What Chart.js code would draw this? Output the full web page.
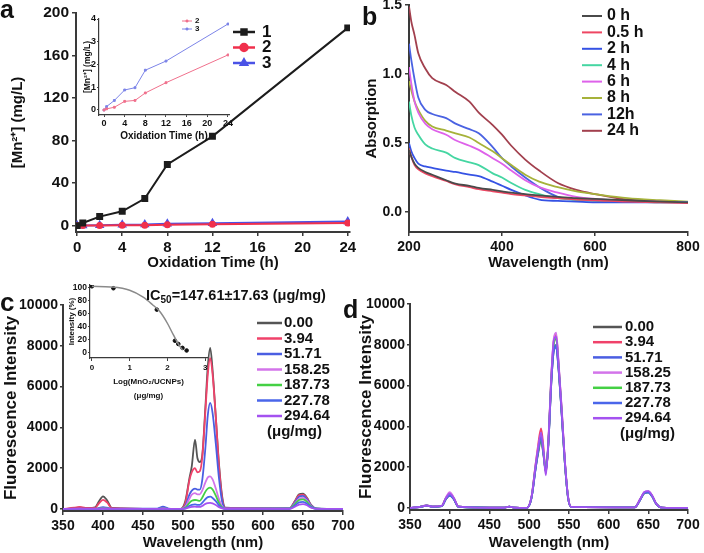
<!DOCTYPE html>
<html>
<head>
<meta charset="utf-8">
<script src="https://cdn.jsdelivr.net/npm/chart.js"></script>
<style>
  body { margin: 0; background: #fff; }
  #wrap { position: relative; width: 704px; height: 553px; overflow: hidden; font-family: 'Liberation Sans', Arial, sans-serif; }
  #wrap canvas { position: absolute; left: 0; top: 0; }
  .lbl { position: absolute; font-weight: bold; color: #111; line-height: 1; white-space: nowrap; }
  .lbl sub { font-size: 10px; vertical-align: -3px; line-height: 0; }
</style>
</head>
<body>
<div id="wrap">
  <canvas id="cA" width="704" height="553"></canvas>
  <canvas id="cB" width="704" height="553"></canvas>
  <canvas id="cC" width="704" height="553"></canvas>
  <canvas id="cD" width="704" height="553"></canvas>
  <canvas id="cAin" width="704" height="553"></canvas>
  <canvas id="cCin" width="704" height="553"></canvas>
  <div class="lbl" style="left:0px;top:-3px;font-size:25px">a</div>
  <div class="lbl" style="left:362px;top:4px;font-size:25px">b</div>
  <div class="lbl" style="left:0px;top:289px;font-size:26px">c</div>
  <div class="lbl" style="left:343px;top:297px;font-size:25px">d</div>
  <div class="lbl" style="left:146px;top:288px;font-size:14.5px">IC<sub>50</sub>=147.61±17.63 (μg/mg)</div>
</div>

<script>
// ---- panel a: Mn2+ release
var aTime = [0, 0.5, 2, 4, 6, 8, 12, 24];
var aMn1 = [0, 2.5, 8.5, 13.5, 25.5, 57.5, 84, 186];
var aMn2 = [0, 0.05, 0.12, 0.38, 0.42, 0.75, 1.2, 2.42];
var aMn3 = [0, 0.15, 0.42, 0.88, 0.98, 1.75, 2.15, 3.78];
var aTicksX = [0, 4, 8, 12, 16, 20, 24];
var aTicksY = [0, 40, 80, 120, 160, 200];
var aInTicksY = [0, 1, 2, 3, 4];

// ---- panel b: absorption spectra
var bX = [200, 205, 212, 220, 235, 250, 280, 300, 330, 350, 380, 400, 420, 450, 480, 520, 560, 600, 670, 740, 800];
var b0h  = [0.45, 0.40, 0.35, 0.32, 0.29, 0.27, 0.23, 0.205, 0.19, 0.175, 0.16, 0.15, 0.14, 0.13, 0.12, 0.11, 0.10, 0.095, 0.085, 0.075, 0.07];
var b05h = [0.46, 0.40, 0.34, 0.31, 0.28, 0.26, 0.225, 0.20, 0.18, 0.165, 0.15, 0.14, 0.13, 0.12, 0.11, 0.10, 0.09, 0.085, 0.075, 0.07, 0.065];
var b2h  = [0.50, 0.44, 0.39, 0.35, 0.33, 0.32, 0.30, 0.29, 0.27, 0.26, 0.22, 0.19, 0.16, 0.12, 0.09, 0.08, 0.075, 0.07, 0.07, 0.07, 0.07];
var b4h  = [0.80, 0.70, 0.61, 0.56, 0.49, 0.46, 0.43, 0.39, 0.36, 0.34, 0.28, 0.25, 0.21, 0.16, 0.13, 0.10, 0.087, 0.08, 0.075, 0.07, 0.07];
var b6h  = [1.05, 0.93, 0.80, 0.72, 0.64, 0.60, 0.56, 0.52, 0.48, 0.45, 0.39, 0.35, 0.30, 0.23, 0.18, 0.14, 0.11, 0.095, 0.08, 0.075, 0.07];
var b8h  = [0.95, 0.88, 0.80, 0.74, 0.66, 0.62, 0.59, 0.57, 0.54, 0.50, 0.44, 0.39, 0.34, 0.27, 0.22, 0.18, 0.15, 0.13, 0.10, 0.085, 0.075];
var b12h = [1.22, 1.10, 0.96, 0.83, 0.74, 0.71, 0.68, 0.64, 0.60, 0.57, 0.47, 0.39, 0.33, 0.25, 0.18, 0.11, 0.09, 0.085, 0.08, 0.075, 0.07];
var b24h = [1.49, 1.38, 1.28, 1.15, 1.04, 0.97, 0.92, 0.87, 0.80, 0.72, 0.63, 0.56, 0.48, 0.38, 0.30, 0.21, 0.16, 0.13, 0.09, 0.08, 0.07];
var bLabels = ['0 h', '0.5 h', '2 h', '4 h', '6 h', '8 h', '12h', '24 h'];
var bColors = ['#4a4a4a', '#ee4662', '#3552e4', '#45d6a2', '#de62ea', '#a6b23a', '#4a62e2', '#a2404e'];
var bTicksX = [200, 400, 600, 800];
var bTicksY = [0, 0.5, 1.0, 1.5];

// ---- panels c and d: emission spectra
var cX = [350, 364, 371, 378, 390, 395, 400, 405, 411, 468, 475, 482, 497, 503, 508, 511, 515, 518, 521, 524, 528, 531, 534, 537, 541, 545, 549, 553, 633, 640, 645, 650, 655, 660, 667, 700];
var c000   = [0, 30, 80, 30, 80, 380, 620, 430, 50, 0, 30, 0, 0, 400, 1500, 2100, 3400, 2500, 2300, 2600, 5000, 7000, 7900, 6800, 4500, 2200, 600, 60, 30, 400, 720, 750, 550, 200, 20, 0];
var c394   = [0, 60, 100, 50, 50, 280, 450, 320, 40, 0, 30, 0, 0, 300, 1400, 1800, 2000, 1800, 1850, 2500, 4800, 6600, 7400, 6600, 4500, 2100, 500, 40, 30, 380, 680, 700, 520, 190, 20, 0];
var c5171  = [0, 10, 20, 10, 10, 50, 90, 60, 10, 20, 110, 20, 0, 150, 700, 900, 1000, 950, 950, 1400, 3000, 4600, 5200, 4700, 3200, 1500, 350, 30, 30, 330, 600, 640, 470, 170, 20, 0];
var c15825 = [0, 5, 10, 5, 5, 20, 40, 25, 5, 5, 30, 5, 0, 100, 500, 700, 780, 720, 720, 900, 1300, 1550, 1600, 1450, 1000, 480, 120, 10, 20, 270, 500, 540, 400, 140, 15, 0];
var c18773 = [0, 5, 5, 5, 5, 15, 25, 15, 5, 0, 20, 0, 0, 60, 300, 400, 440, 420, 400, 550, 850, 1000, 1050, 950, 650, 300, 80, 5, 15, 240, 440, 470, 350, 120, 10, 0];
var c22778 = [0, 0, 5, 0, 0, 10, 15, 10, 0, 0, 15, 0, 0, 30, 150, 200, 220, 200, 200, 300, 480, 580, 600, 540, 380, 180, 50, 5, 10, 170, 320, 350, 260, 90, 10, 0];
var c29464 = [0, 0, 0, 0, 0, 5, 10, 5, 0, 0, 10, 0, 0, 20, 80, 100, 110, 100, 100, 150, 250, 290, 300, 270, 190, 90, 25, 0, 5, 110, 210, 240, 180, 60, 5, 0];

var d000   = [0, 60, 110, 60, 90, 420, 600, 440, 60, 10, 60, 10, 0, 500, 1900, 2600, 3300, 2600, 1800, 3000, 6200, 7700, 7900, 6800, 4600, 2200, 500, 50, 30, 420, 720, 760, 560, 200, 20, 0];
var d394   = [0, 70, 130, 70, 100, 480, 720, 500, 70, 10, 70, 10, 0, 550, 2100, 3000, 3900, 3000, 1700, 3100, 6500, 8200, 8500, 7100, 4800, 2300, 550, 50, 30, 440, 760, 800, 590, 210, 20, 0];
var d5171  = [0, 60, 120, 60, 90, 430, 620, 450, 60, 10, 60, 10, 0, 500, 1900, 2700, 3500, 2700, 1900, 3000, 6300, 7800, 8000, 6900, 4600, 2200, 500, 50, 30, 420, 730, 770, 560, 200, 20, 0];
var d15825 = [0, 70, 130, 70, 100, 500, 780, 520, 70, 10, 70, 10, 0, 560, 2100, 2900, 3600, 2800, 1800, 3200, 6600, 8300, 8600, 7200, 4900, 2300, 550, 50, 30, 450, 770, 820, 600, 210, 20, 0];
var d18773 = [0, 60, 120, 60, 90, 450, 650, 460, 60, 10, 60, 10, 0, 520, 2000, 2700, 3400, 2700, 1800, 3100, 6400, 8000, 8300, 7000, 4700, 2200, 520, 50, 30, 430, 740, 780, 570, 200, 20, 0];
var d22778 = [0, 60, 110, 60, 90, 430, 620, 440, 60, 10, 60, 10, 0, 500, 1900, 2700, 3500, 2650, 1750, 3000, 6200, 7700, 7900, 6800, 4600, 2200, 500, 50, 30, 420, 730, 770, 560, 200, 20, 0];
var d29464 = [0, 70, 120, 70, 100, 470, 700, 490, 70, 10, 70, 10, 0, 540, 2050, 2850, 3700, 2800, 1600, 3100, 6500, 8200, 8400, 7100, 4800, 2300, 540, 50, 30, 450, 780, 830, 600, 210, 20, 0];

var cdLabels = ['0.00', '3.94', '51.71', '158.25', '187.73', '227.78', '294.64'];
var cdColors = ['#555555', '#f0426a', '#4a5ee2', '#d374ea', '#44d044', '#4a66ea', '#a452f0'];
var cdTicksX = [350, 400, 450, 500, 550, 600, 650, 700];
var cdTicksY = [0, 2000, 4000, 6000, 8000, 10000];

// ---- inset of c: dose response
var icLogX = [0, 0.57, 1.72, 2.2, 2.29, 2.4, 2.51];
var icPct = [102, 99, 66, 18, 13, 7, 3];
var icFitX = [0, 0.5, 1.0, 1.37, 1.6, 1.8, 2.0, 2.16, 2.3, 2.4];
var icFitY = [102, 101, 96, 85, 74, 63, 45, 27, 12, 4];
var icTicksX = [0, 1, 2, 3];
var icTicksY = [0, 20, 40, 60, 80, 100];

Chart.defaults.font.family = "'Liberation Sans', Arial, sans-serif";
Chart.defaults.color = '#111';

function pts(xs, ys) {
  return xs.map(function(x, i) { return {x: x, y: ys[i]}; });
}

// scale with fixed size and explicit ticks
function lin(o) {
  return {
    type: 'linear', min: o.min, max: o.max,
    afterBuildTicks: function(s) { s.ticks = o.ticks.map(function(v) { return {value: v}; }); },
    afterFit: function(s) {
      if (o.w != null) s.width = o.w;
      if (o.h != null) s.height = o.h;
      s.paddingLeft = s.paddingRight = s.paddingTop = s.paddingBottom = 0;
    },
    border: {display: true, color: '#3a3a3a', width: o.bw || 2},
    grid: {display: true, drawOnChartArea: false, drawTicks: true, tickLength: o.tl || 4, color: '#3a3a3a', lineWidth: o.bw ? o.bw * 0.8 : 1.5},
    ticks: {autoSkip: false, maxRotation: 0, padding: o.tp != null ? o.tp : 3, color: '#111',
            font: {size: o.fs || 14, weight: 'bold'},
            callback: o.fmt || function(v) { return String(v); }},
    title: {display: !!o.title, text: o.title, padding: 0, color: '#111',
            font: {size: o.tfs || 15, weight: 'bold', lineHeight: o.tlh || 1.2}}
  };
}

// legend drawn at a fixed spot from the datasets
var legendBox = {
  id: 'legendBox',
  afterDraw: function(chart, args, o) {
    if (!o || o.x == null) return;
    var ctx = chart.ctx;
    ctx.save();
    ctx.font = o.font;
    ctx.textBaseline = 'middle';
    var n = 0;
    chart.data.datasets.forEach(function(ds) {
      if (ds.noLegend) return;
      var y = o.y + n * o.dy;
      n++;
      ctx.strokeStyle = ds.borderColor;
      ctx.lineWidth = o.lw;
      ctx.beginPath(); ctx.moveTo(o.x, y); ctx.lineTo(o.x + o.len, y); ctx.stroke();
      if (o.r) {
        ctx.fillStyle = ds.borderColor;
        Chart.helpers.drawPoint(ctx, {pointStyle: ds.pointStyle, radius: o.r, rotation: 0, borderWidth: 1}, o.x + o.len / 2, y);
      }
      ctx.fillStyle = '#111';
      ctx.fillText(ds.label, o.x + o.len + o.gap, y);
    });
    (o.extra || []).forEach(function(e) { ctx.fillText(e.text, e.x, e.y); });
    ctx.restore();
  }
};

function make(id, datasets, scales, pad, leg) {
  return new Chart(document.getElementById(id), {
    type: 'line',
    data: {datasets: datasets},
    options: {
      responsive: false, animation: false, devicePixelRatio: 1, events: [],
      layout: {padding: pad},
      scales: scales,
      plugins: {legend: {display: false}, tooltip: {enabled: false}, legendBox: leg || {}}
    },
    plugins: [legendBox]
  });
}

// panel a
make('cA', [
  {label: '1', data: pts(aTime, aMn1), borderColor: '#1c1c1c', backgroundColor: '#1c1c1c', borderWidth: 2, pointStyle: 'rect', pointRadius: 3.5},
  {label: '2', data: pts(aTime, aMn2), borderColor: '#f0304c', backgroundColor: '#f0304c', borderWidth: 2, pointStyle: 'circle', pointRadius: 2.5},
  {label: '3', data: pts(aTime, aMn3), borderColor: '#4a52e6', backgroundColor: '#4a52e6', borderWidth: 2, pointStyle: 'triangle', pointRadius: 3.5}
], {
  x: lin({min: -0.1, max: 24.2, ticks: aTicksX, h: 40, fs: 15, title: 'Oxidation Time (h)'}),
  y: lin({min: -6, max: 200, ticks: aTicksY, w: 67, fs: 15.5, title: '[Mn²⁺] (mg/L)'})
}, {left: 9, right: 354, top: 13, bottom: 281},
{x: 233, y: 32, dy: 15.5, len: 22, gap: 7, lw: 2.5, r: 3.5, font: 'bold 17px "Liberation Sans", Arial'});

// inset of a
make('cAin', [
  {label: '2', data: pts(aTime, aMn2), borderColor: '#f0708c', backgroundColor: '#f0708c', borderWidth: 1, pointStyle: 'rect', pointRadius: 1.3},
  {label: '3', data: pts(aTime, aMn3), borderColor: '#7c84e8', backgroundColor: '#7c84e8', borderWidth: 1, pointStyle: 'rect', pointRadius: 1.3}
], {
  x: lin({min: -0.97, max: 24.2, ticks: aTicksX, h: 27, bw: 1.2, tl: 2, tp: 1, fs: 9, tfs: 10, title: 'Oxidation Time (h)'}),
  y: lin({min: -0.22, max: 4, ticks: aInTicksY, w: 16, bw: 1.2, tl: 2, tp: 1, fs: 9, tfs: 8.5, title: '[Mn²⁺] (mg/L)'})
}, {left: 83, right: 475, top: 19, bottom: 411},
{x: 182, y: 21, dy: 8, len: 10, gap: 3, lw: 1, r: 1.3, font: 'bold 8px "Liberation Sans", Arial'});

// panel b
var bSeries = [b0h, b05h, b2h, b4h, b6h, b8h, b12h, b24h];
make('cB', bSeries.map(function(s, i) {
  return {label: bLabels[i], data: pts(bX, s), borderColor: bColors[i], borderWidth: 1.8, pointRadius: 0, cubicInterpolationMode: 'monotone'};
}), {
  x: lin({min: 200, max: 800, ticks: bTicksX, h: 40, title: 'Wavelength (nm)'}),
  y: lin({min: -0.145, max: 1.5, ticks: bTicksY, w: 46, title: 'Absorption', fmt: function(v) { return v.toFixed(1); }})
}, {left: 363, right: 16, top: 5, bottom: 281},
{x: 582, y: 16, dy: 16.4, len: 20, gap: 5, lw: 2, font: 'bold 16px "Liberation Sans", Arial'});

// panel c
var cSeries = [c000, c394, c5171, c15825, c18773, c22778, c29464];
make('cC', cSeries.map(function(s, i) {
  return {label: cdLabels[i], data: pts(cX, s), borderColor: cdColors[i], borderWidth: 1.8, pointRadius: 0, cubicInterpolationMode: 'monotone', order: -i};
}), {
  x: lin({min: 350, max: 700, ticks: cdTicksX, h: 41, title: 'Wavelength (nm)'}),
  y: lin({min: -100, max: 10000, ticks: cdTicksY, w: 62, tl: 3, tp: 2, tfs: 17, title: 'Fluorescence Intensity'})
}, {left: 1, right: 361, top: 305, bottom: 1},
{x: 257, y: 323, dy: 15.5, len: 25, gap: 2, lw: 2.5, font: 'bold 15px "Liberation Sans", Arial',
 extra: [{text: '(μg/mg)', x: 267, y: 432}]});

// panel d
var dSeries = [d000, d394, d5171, d15825, d18773, d22778, d29464];
make('cD', dSeries.map(function(s, i) {
  return {label: cdLabels[i], data: pts(cX, s), borderColor: cdColors[i], borderWidth: 1.8, pointRadius: 0, cubicInterpolationMode: 'monotone', order: -i};
}), {
  x: lin({min: 350, max: 700, ticks: cdTicksX, h: 42, title: 'Wavelength (nm)'}),
  y: lin({min: -100, max: 10000, ticks: cdTicksY, w: 54, tl: 3, tp: 2, tfs: 17, title: 'Fluorescence Intensity'})
}, {left: 356, right: 16, top: 304, bottom: 1},
{x: 593, y: 327, dy: 15.2, len: 29, gap: 3, lw: 2.5, font: 'bold 15px "Liberation Sans", Arial',
 extra: [{text: '(μg/mg)', x: 620, y: 434}]});

// inset of c
make('cCin', [
  {label: 'fit', noLegend: true, data: pts(icFitX, icFitY), borderColor: '#8a8a8a', borderWidth: 1.5, pointRadius: 0, cubicInterpolationMode: 'monotone'},
  {label: 'data', noLegend: true, data: pts(icLogX, icPct), showLine: false, borderColor: '#111', backgroundColor: '#111', pointRadius: 1.8}
], {
  x: lin({min: -0.05, max: 3.05, ticks: icTicksX, h: 45, bw: 1.2, tl: 3, tp: 2, fs: 8, tfs: 8, tlh: 1.75, title: ['Log(MnO₂/UCNPs)', '(μg/mg)']}),
  y: lin({min: -8.6, max: 104, ticks: icTicksY, w: 23, bw: 1.2, tl: 2, tp: 1, fs: 8.5, tfs: 8, title: 'Intensity (%)'})
}, {left: 67, right: 497, top: 285, bottom: 150});
</script>
</body>
</html>
